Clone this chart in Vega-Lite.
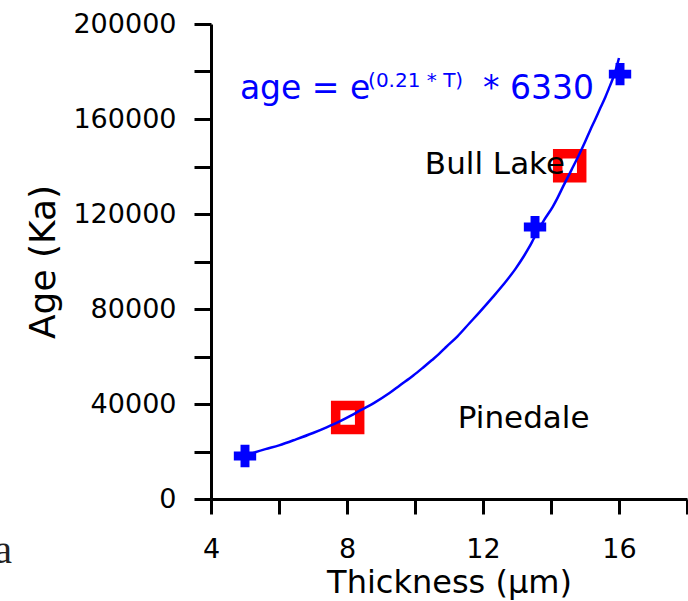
{
  "$schema": "https://vega.github.io/schema/vega-lite/v6.json",
  "width": 476,
  "height": 475,
  "autosize": {"type": "none"},
  "padding": {"left": 211, "top": 24, "right": 1, "bottom": 102},
  "background": "white",
  "config": {
    "view": {"stroke": null},
    "font": "DejaVu Sans"
  },
  "datasets": {
    "curve": [
      {"t": 5.0, "age": 18300}, {"t": 5.6, "age": 21000}, {"t": 6.0, "age": 22600},
      {"t": 6.5, "age": 25100}, {"t": 7.0, "age": 27800}, {"t": 7.4, "age": 30200},
      {"t": 7.8, "age": 32800}, {"t": 8.1, "age": 35000}, {"t": 8.4, "age": 37400},
      {"t": 8.8, "age": 40500}, {"t": 9.25, "age": 44600}, {"t": 9.55, "age": 47800},
      {"t": 9.95, "age": 52000}, {"t": 10.25, "age": 55500}, {"t": 10.5, "age": 58500},
      {"t": 10.7, "age": 61000}, {"t": 10.9, "age": 63800}, {"t": 11.25, "age": 68500},
      {"t": 11.6, "age": 74000}, {"t": 11.9, "age": 78700}, {"t": 12.3, "age": 85200},
      {"t": 12.6, "age": 90300}, {"t": 12.95, "age": 96800}, {"t": 13.2, "age": 102200},
      {"t": 13.35, "age": 105800}, {"t": 13.5, "age": 109800}, {"t": 13.8, "age": 117500},
      {"t": 14.05, "age": 123000}, {"t": 14.2, "age": 127000}, {"t": 14.35, "age": 131400},
      {"t": 14.6, "age": 138500}, {"t": 14.8, "age": 144200}, {"t": 15.0, "age": 150300},
      {"t": 15.15, "age": 155200}, {"t": 15.3, "age": 159800}, {"t": 15.45, "age": 164600},
      {"t": 15.6, "age": 169300}, {"t": 15.7, "age": 172800}, {"t": 15.8, "age": 176300},
      {"t": 15.9, "age": 180500}, {"t": 16.0, "age": 185700}
    ],
    "crosses": [
      {"t": 5.0, "age": 18100},
      {"t": 13.53, "age": 114500},
      {"t": 16.03, "age": 178900}
    ],
    "squares": [
      {"t": 8.02, "age": 34300},
      {"t": 14.55, "age": 140300}
    ],
    "labels": [
      {"t": 10.29, "age": 136800, "label": "Bull Lake"},
      {"t": 11.26, "age": 29900, "label": "Pinedale"}
    ],
    "eqmain": [
      {"t": 4.85, "age": 168400, "label": "age = e"},
      {"t": 12.0, "age": 168400, "label": "* 6330"}
    ],
    "eqsup": [
      {"t": 8.62, "age": 173500, "label": "(0.21 * T)"}
    ],
    "stray": [
      {"t": -1.85, "age": -26900, "label": "a"}
    ]
  },
  "encoding": {
    "x": {
      "field": "t", "type": "quantitative",
      "scale": {"domain": [4, 18], "nice": false, "zero": false},
      "axis": {
        "values": [4, 6, 8, 10, 12, 14, 16, 18],
        "labelExpr": "datum.value % 4 == 0 ? datum.label : ''",
        "grid": false,
        "tickSize": 15, "tickWidth": 3, "tickColor": "black",
        "domainWidth": 3, "domainColor": "black",
        "labelFont": "DejaVu Sans", "labelFontSize": 27, "labelColor": "black",
        "labelPadding": 22, "labelFlush": false, "labelOverlap": false, "labelBound": false,
        "title": "Thickness (µm)",
        "titleFont": "DejaVu Sans", "titleFontSize": 32, "titleFontWeight": "normal",
        "titleColor": "black", "titlePadding": 5
      }
    },
    "y": {
      "field": "age", "type": "quantitative",
      "scale": {"domain": [0, 200000], "nice": false, "zero": false},
      "axis": {
        "values": [0, 20000, 40000, 60000, 80000, 100000, 120000, 140000, 160000, 180000, 200000],
        "labelExpr": "datum.value % 40000 == 0 ? format(datum.value, 'd') : ''",
        "grid": false,
        "tickSize": 17, "tickWidth": 3, "tickColor": "black",
        "domainWidth": 3, "domainColor": "black",
        "labelFont": "DejaVu Sans", "labelFontSize": 27, "labelColor": "black",
        "labelPadding": 18, "labelOverlap": false, "labelBound": false,
        "title": "Age (Ka)",
        "titleFont": "DejaVu Sans", "titleFontSize": 36, "titleFontWeight": "normal",
        "titleColor": "black", "titlePadding": 10
      }
    }
  },
  "layer": [
    {
      "data": {"name": "squares"},
      "mark": {"type": "point", "shape": "square", "filled": false, "stroke": "#ff0000", "strokeWidth": 9.5, "size": 576, "opacity": 1}
    },
    {
      "data": {"name": "labels"},
      "mark": {"type": "text", "align": "left", "baseline": "alphabetic", "font": "DejaVu Sans", "fontSize": 31, "color": "black"},
      "encoding": {"text": {"field": "label"}}
    },
    {
      "data": {"name": "eqmain"},
      "mark": {"type": "text", "align": "left", "baseline": "alphabetic", "font": "DejaVu Sans", "fontSize": 33, "color": "#0000ff"},
      "encoding": {"text": {"field": "label"}}
    },
    {
      "data": {"name": "eqsup"},
      "mark": {"type": "text", "align": "left", "baseline": "alphabetic", "font": "DejaVu Sans", "fontSize": 20, "color": "#0000ff"},
      "encoding": {"text": {"field": "label"}}
    },
    {
      "data": {"name": "curve"},
      "mark": {"type": "line", "interpolate": "monotone", "color": "#0000ff", "strokeWidth": 2.5}
    },
    {
      "data": {"name": "crosses"},
      "mark": {"type": "point", "shape": "cross", "filled": true, "color": "#0000ff", "size": 500, "opacity": 1}
    },
    {
      "data": {"name": "stray"},
      "mark": {"type": "text", "align": "right", "baseline": "alphabetic", "font": "Liberation Serif", "fontSize": 40, "color": "#222222", "clip": false},
      "encoding": {"text": {"field": "label"}}
    }
  ]
}
